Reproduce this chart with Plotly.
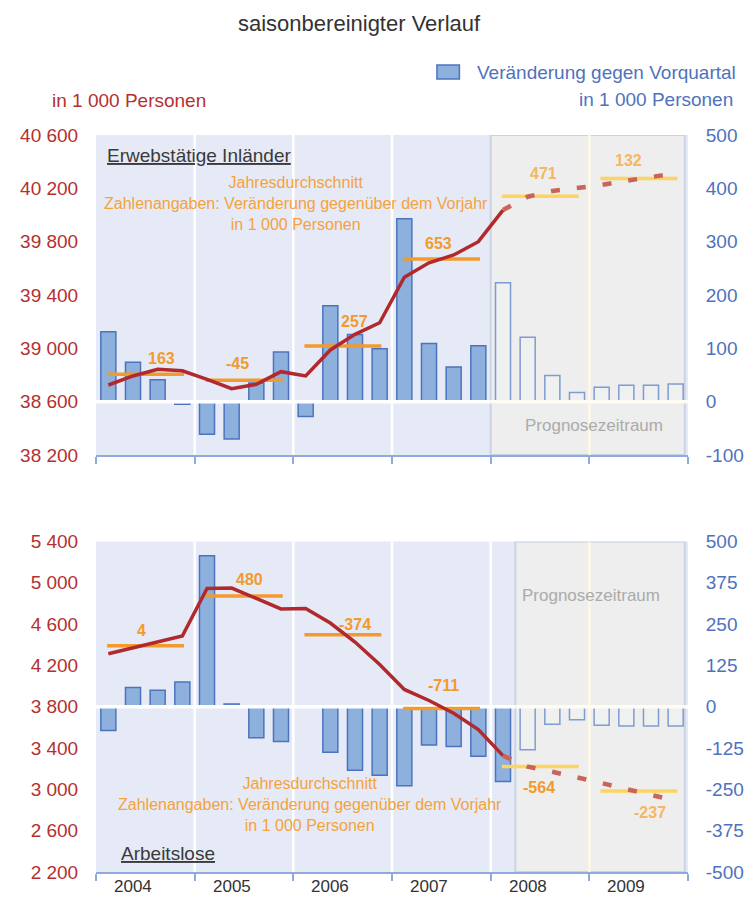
import plotly.graph_objects as go

# ---------------- data ----------------
quarters = list(range(24))  # 2004 Q1 ... 2009 Q4
years = ["2004", "2005", "2006", "2007", "2008", "2009"]

# Erwerbstätige Inländer
emp_change = [131, 74, 41, -5, -61, -70, 35, 93, -28, 180, 126, 99,
              343, 109, 65, 105, 223, 121, 49, 17, 27, 31, 31, 33]
emp_level = [38725, 38793, 38843, 38832, 38768, 38697, 38730, 38825,
             38793, 38988, 39105, 39192, 39533, 39642, 39700, 39800,
             40037, 40137, 40180, 40202, 40225, 40257, 40282, 40312]
emp_avg = [38805, 38760, 39017, 39670, 40141, 40273]
emp_avg_labels = ["163", "-45", "257", "653", "471", "132"]

# Arbeitslose
unemp_change = [-72, 58, 50, 75, 457, 8, -94, -105, 0, -138, -192, -207,
                -239, -116, -120, -150, -226, -130, -53, -39, -56, -58, -58, -58]
unemp_level = [4314, 4369, 4427, 4485, 4946, 4949, 4849, 4747,
               4751, 4611, 4427, 4210, 3968, 3861, 3737, 3579,
               3327, 3220, 3171, 3120, 3061, 3003, 2948, 2890]
unemp_avg = [4392, 4872, 4498, 3784, 3222, 2985]
unemp_avg_labels = ["4", "480", "-374", "-711", "-564", "-237"]

emp_left_ticks = [38200, 38600, 39000, 39400, 39800, 40200, 40600]
emp_right_ticks = [-100, 0, 100, 200, 300, 400, 500]
unemp_left_ticks = [2200, 2600, 3000, 3400, 3800, 4200, 4600, 5000, 5400]
unemp_right_ticks = [-500, -375, -250, -125, 0, 125, 250, 375, 500]

# ---------------- style ----------------
FONT = "Liberation Sans, Arial, sans-serif"
RED = "#B1282D"
RED_FC = "#C96558"
ORANGE = "#F39A2C"
YELLOW_FC = "#FFD45E"
LABEL_FC = "#F6B664"
NOTE = "#F5A23A"
BAR_FILL = "#8DB0DD"
BAR_LINE = "#4C74BE"
FC_BAR_FILL = "#EFF0F0"
FC_BAR_LINE = "#7F9CD2"
BG = "#E5EAF6"
FC_BG = "#EDEEED"
FC_BORDER = "#CAD3E3"
CREAM = "#FFF8E8"
AXIS = "#8FAADC"
LEFT_TICK = "#B5302F"
RIGHT_TICK = "#4F72BE"
GRAY_TXT = "#ABABAB"

def fmt(v):
    s = f"{abs(v):,}".replace(",", " ")
    return ("-" if v < 0 else "") + s

fig = go.Figure()

def fx(px):
    return (px - 88) / 606

def fy(py):
    return (872 - py) / 737

def panel(xa, ybar, yline, change, level, avg, labels, fc_bar, fc_line_start,
          fc_rect_x0, rng_bar, label_dx, label_dy, label_colors):
    # forecast background
    fig.add_shape(type="rect", xref=xa, yref=ybar, x0=fc_rect_x0, x1=23.37,
                  y0=rng_bar[0], y1=rng_bar[1], fillcolor=FC_BG,
                  line=dict(color=FC_BORDER, width=2), layer="below")
    for b in [3.5, 7.5, 11.5, 15.5, 19.5]:
        if abs(b - fc_rect_x0) < 0.01:
            continue
        col = CREAM if b > fc_rect_x0 else "white"
        fig.add_shape(type="line", xref=xa, yref=ybar, x0=b, x1=b,
                      y0=rng_bar[0], y1=rng_bar[1],
                      line=dict(color=col, width=2.5), layer="below")
    # bars
    fig.add_trace(go.Bar(x=quarters[:fc_bar], y=change[:fc_bar], width=0.61,
                         marker=dict(color=BAR_FILL, line=dict(color=BAR_LINE, width=1.5)),
                         xaxis=xa, yaxis=ybar))
    fig.add_trace(go.Bar(x=quarters[fc_bar:], y=change[fc_bar:], width=0.61,
                         marker=dict(color=FC_BAR_FILL, line=dict(color=FC_BAR_LINE, width=1.5)),
                         xaxis=xa, yaxis=ybar))
    # zero line
    fig.add_trace(go.Scatter(x=[-0.5, fc_rect_x0], y=[0, 0], mode="lines",
                             line=dict(color="white", width=3.5), xaxis=xa, yaxis=ybar))
    fig.add_trace(go.Scatter(x=[fc_rect_x0, 23.5], y=[0, 0], mode="lines",
                             line=dict(color="#FFFCF4", width=3.5), xaxis=xa, yaxis=ybar))
    # yearly averages
    for k, a in enumerate(avg):
        col = YELLOW_FC if k >= 4 else ORANGE
        fig.add_trace(go.Scatter(x=[4 * k - 0.05, 4 * k + 3.07], y=[a, a], mode="lines",
                                 line=dict(color=col, width=3.5), xaxis=xa, yaxis=yline))
    # level line
    s = fc_line_start
    fig.add_trace(go.Scatter(x=quarters[:s + 1], y=level[:s + 1], mode="lines",
                             line=dict(color=RED, width=3.5), xaxis=xa, yaxis=yline))
    fig.add_trace(go.Scatter(x=quarters[s:], y=level[s:], mode="lines",
                             line=dict(color=RED_FC, width=4.5, dash="9px,17px"),
                             xaxis=xa, yaxis=yline))
    for k, (a, t) in enumerate(zip(avg, labels)):
        fig.add_annotation(x=4 * k + 1.5 + label_dx[k], y=a, xref=xa, yref=yline,
                           text=f"<b>{t}</b>", showarrow=False, yshift=label_dy[k],
                           font=dict(family=FONT, size=16, color=label_colors[k]))

panel("x", "y", "y2", emp_change, emp_level, emp_avg, emp_avg_labels,
      fc_bar=16, fc_line_start=16, fc_rect_x0=15.5, rng_bar=[-100, 500],
      label_dx=[0.65, -0.27, 0.48, -0.1, 0.14, -0.42],
      label_dy=[16, 17, 25, 16, 23, 18],
      label_colors=[ORANGE, ORANGE, ORANGE, ORANGE, LABEL_FC, LABEL_FC])
panel("x2", "y3", "y4", unemp_change, unemp_level, unemp_avg, unemp_avg_labels,
      fc_bar=17, fc_line_start=16, fc_rect_x0=16.5, rng_bar=[-500, 500],
      label_dx=[-0.14, 0.22, 0.51, 0.07, -0.03, 0.44],
      label_dy=[15, 17, 10, 23, -21, -22],
      label_colors=[ORANGE, ORANGE, ORANGE, ORANGE, ORANGE, LABEL_FC])

xcommon = dict(range=[-0.5, 23.5], showgrid=False, zeroline=False, showline=True,
               linecolor=AXIS, linewidth=2, ticks="outside", ticklen=7, tickwidth=1.5,
               tickcolor=AXIS, tickvals=[-0.5, 3.5, 7.5, 11.5, 15.5, 19.5, 23.5],
               showticklabels=False, fixedrange=True)

def yax(ticks, rng, side, color, **kw):
    d = dict(range=rng, tickvals=ticks, ticktext=[fmt(t) for t in ticks], side=side,
             showgrid=False, zeroline=False, showline=False, ticks="outside", ticklen=13,
             tickcolor="rgba(0,0,0,0)", tickfont=dict(family=FONT, size=19, color=color))
    d.update(kw)
    return d

# page body has an 8px margin: figure is 8px smaller and offset accordingly
fig.update_layout(
    width=748, height=898,
    margin=dict(l=80, r=62, t=127, b=34),
    paper_bgcolor="white", plot_bgcolor=BG,
    barmode="overlay", showlegend=False,
    font=dict(family=FONT),
    xaxis=dict(domain=[0, 1], anchor="y", **xcommon),
    xaxis2=dict(domain=[0, 1], anchor="y3", **xcommon),
    yaxis=yax(emp_right_ticks, [-100, 500], "right", RIGHT_TICK, domain=[0.5658, 1], anchor="x"),
    yaxis2=yax(emp_left_ticks, [38200, 40600], "left", LEFT_TICK, overlaying="y", anchor="x"),
    yaxis3=yax(unemp_right_ticks, [-500, 500], "right", RIGHT_TICK, domain=[0, 0.4484], anchor="x2"),
    yaxis4=yax(unemp_left_ticks, [2200, 5400], "left", LEFT_TICK, overlaying="y3", anchor="x2"),
)

# year labels
for k, yr in enumerate(years):
    fig.add_annotation(x=4 * k + 1.0, y=fy(898), xref="x2", yref="paper", text=yr,
                       showarrow=False, font=dict(family=FONT, size=17, color="#333333"))

# texts
def txt(text, px, py, size, color, anchor="center"):
    fig.add_annotation(x=fx(px), y=fy(py), xref="paper", yref="paper", text=text,
                       showarrow=False, xanchor=anchor, yanchor="middle",
                       font=dict(family=FONT, size=size, color=color))

txt("saisonbereinigter Verlauf", 358, 24, 22, "#333333")
txt("in 1 000 Personen", 41, 100, 19, LEFT_TICK, "left")
txt("Veränderung gegen Vorquartal", 476, 72, 19, RIGHT_TICK, "left")
txt("in 1 000 Personen", 742, 99, 19, RIGHT_TICK, "right")
fig.add_shape(type="rect", xref="paper", yref="paper", x0=fx(437), x1=fx(460),
              y0=fy(79), y1=fy(65), fillcolor=BAR_FILL, line=dict(color=BAR_LINE, width=1.5))

txt("<u>Erwebstätige Inländer</u>", 97, 155, 19, "#3A3A3A", "left")
txt("<u>Arbeitslose</u>", 112, 853, 19, "#3A3A3A", "left")

note = "Jahresdurchschnitt<br>Zahlenangaben: Veränderung gegenüber dem Vorjahr<br>in 1 000 Personen"
txt(note, 292.7, 203, 16, NOTE)
txt(note, 306.7, 804, 16, NOTE)

txt("Prognosezeitraum", 598, 425, 17, GRAY_TXT)
txt("Prognosezeitraum", 595, 595, 17, GRAY_TXT)

fig.write_html("out.html")
